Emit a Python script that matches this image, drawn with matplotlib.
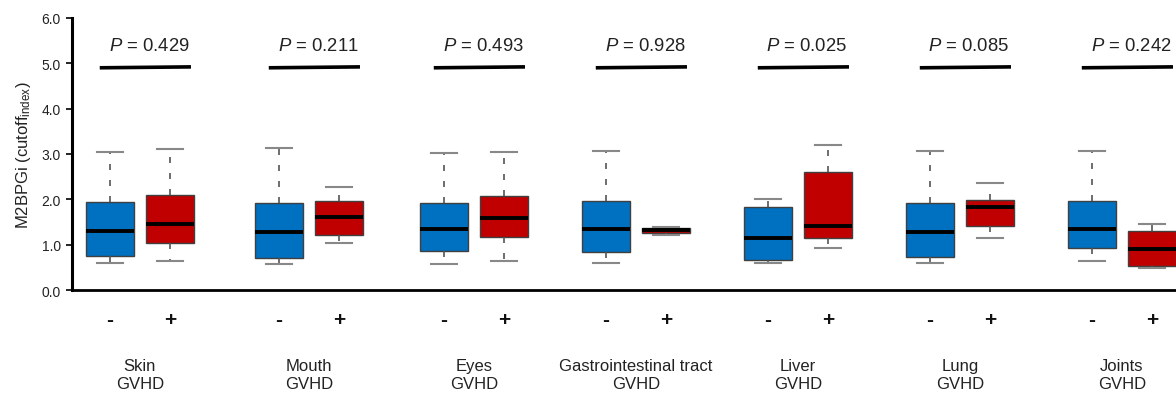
import matplotlib
matplotlib.use('Agg')
import matplotlib.pyplot as plt
import matplotlib.transforms as mtransforms

plt.rcParams['font.family'] = ['Liberation Sans', 'DejaVu Sans']
plt.rcParams['mathtext.fontset'] = 'custom'
plt.rcParams['mathtext.rm'] = 'Liberation Sans'
plt.rcParams['mathtext.it'] = 'Liberation Sans:italic'

groups = ['Skin', 'Mouth', 'Eyes', 'Gastrointestinal tract', 'Liver', 'Lung', 'Joints']
p_values = ['0.429', '0.211', '0.493', '0.928', '0.025', '0.085', '0.242']

# GVHD negative: whisker low, q1, median, q3, whisker high
neg_low = [0.60, 0.58, 0.58, 0.60, 0.60, 0.60, 0.64]
neg_q1 = [0.75, 0.70, 0.87, 0.84, 0.67, 0.72, 0.92]
neg_med = [1.31, 1.27, 1.35, 1.35, 1.15, 1.28, 1.35]
neg_q3 = [1.95, 1.92, 1.93, 1.97, 1.84, 1.93, 1.97]
neg_high = [3.04, 3.13, 3.02, 3.07, 2.00, 3.07, 3.07]

# GVHD positive
pos_low = [0.64, 1.03, 0.64, 1.22, 0.92, 1.15, 0.48]
pos_q1 = [1.04, 1.21, 1.18, 1.26, 1.15, 1.41, 0.52]
pos_med = [1.46, 1.60, 1.58, 1.32, 1.42, 1.82, 0.91]
pos_q3 = [2.10, 1.97, 2.08, 1.37, 2.60, 1.98, 1.30]
pos_high = [3.12, 2.28, 3.05, 1.40, 3.20, 2.37, 1.46]

# layout: x position of each "-" box (data units)
group_x = [0, 2.817, 5.567, 8.267, 10.967, 13.667, 16.367]

blue = '#0070C0'
red = '#C00000'

fig = plt.figure(figsize=(11.76, 4.02), dpi=100)
ax = fig.add_axes([0.0612, 0.276, 0.9388, 0.677])


def stats(lo, q1, med, q3, hi):
    return [dict(whislo=a, q1=b, med=c, q3=d, whishi=e, fliers=[])
            for a, b, c, d, e in zip(lo, q1, med, q3, hi)]


pos_neg = group_x
pos_pos = [p + 1 for p in pos_neg]

for st, xs, col in [(stats(neg_low, neg_q1, neg_med, neg_q3, neg_high), pos_neg, blue),
                    (stats(pos_low, pos_q1, pos_med, pos_q3, pos_high), pos_pos, red)]:
    ax.bxp(st, positions=xs, widths=0.8, patch_artist=True, showfliers=False,
           boxprops=dict(facecolor=col, edgecolor='#404040', linewidth=1.0),
           medianprops=dict(color='black', linewidth=2.8),
           whiskerprops=dict(color='#555555', linewidth=1.2, linestyle=(0, (3.6, 6))),
           capprops=dict(color='#888888', linewidth=1.5),
           capwidths=0.42, manage_ticks=False)

ax.set_xlim(-0.633, 17.767)
ax.set_ylim(0, 6)
ax.set_yticks([0, 1, 2, 3, 4, 5, 6])
ax.set_yticklabels(['0.0', '1.0', '2.0', '3.0', '4.0', '5.0', '6.0'], fontsize=10, color='#222222')
ax.set_xticks([])
ax.tick_params(axis='y', direction='out', length=4, width=1.2, pad=4)
for s in ['top', 'right']:
    ax.spines[s].set_visible(False)
ax.spines['left'].set_linewidth(2.2)
ax.spines['bottom'].set_linewidth(2.0)
ax.set_ylabel('M2BPGi (cutoff$_{\\mathrm{index}}$)', fontsize=12, labelpad=6, color='#222222')

trans = mtransforms.blended_transform_factory(ax.transData, fig.transFigure)
for i, g in enumerate(groups):
    x0 = pos_neg[i]
    x1 = pos_pos[i]
    ax.plot([x0 - 0.17, x1 + 0.35], [4.9, 4.92], color='black', linewidth=2.6,
            solid_capstyle='butt', clip_on=False)
    ax.text((x0 + x1) / 2 + 0.15, 5.2, '$\\mathit{P}$ = ' + p_values[i], ha='center',
            va='bottom', fontsize=13.3, color='#222222')
    ax.text(x0, 1 - 320 / 402, '-', transform=trans, ha='center', va='center',
            fontsize=15, fontweight='bold', color='#111111')
    ax.text(x1, 1 - 320 / 402, '+', transform=trans, ha='center', va='center',
            fontsize=15, fontweight='bold', color='#111111')
    ax.text((x0 + x1) / 2, 1 - 376 / 402, g + '\nGVHD', transform=trans, ha='center',
            va='center', fontsize=12, linespacing=1.25, color='#222222')

fig.savefig('out.png', dpi=100)
